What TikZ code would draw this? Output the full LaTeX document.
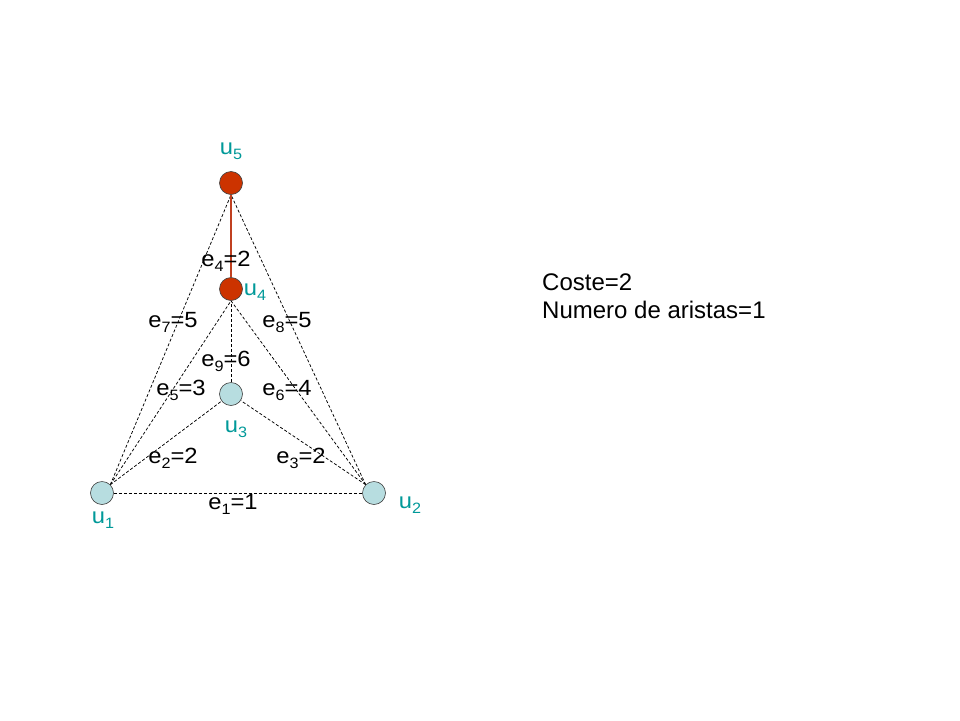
\documentclass[tikz,border=0pt]{standalone}
\usepackage{fontspec}
\setmainfont{Liberation Sans}
\newfontfamily\labfont[FakeStretch=1.08]{Liberation Sans}
\usetikzlibrary{backgrounds}
\newcommand\mysub[1]{\raisebox{-5pt}{\fontsize{15}{15}\selectfont #1}}
\begin{document}
\begin{tikzpicture}[x=1pt,y=-1pt,
  vert/.style={circle,draw=black!75,line width=0.6pt,minimum size=23pt,inner sep=0pt},
  redv/.style={vert,fill=nodered},
  bluev/.style={vert,fill=nodeblue},
  dedge/.style={draw=black,line width=0.75pt,dash pattern=on 3pt off 2pt},
  sedge/.style={draw=edgered,line width=1.1pt},
  elab/.style={anchor=base,inner sep=0pt,font=\labfont\fontsize{22}{26}\selectfont,text=black},
  ulab/.style={anchor=base,inner sep=0pt,font=\labfont\fontsize{22}{26}\selectfont,text=labteal},
  info/.style={anchor=base west,inner sep=0pt,font=\fontsize{24}{28}\selectfont,text=black}
]
\definecolor{nodered}{RGB}{204,51,0}
\definecolor{nodeblue}{RGB}{183,221,224}
\definecolor{edgered}{RGB}{192,64,32}
\definecolor{labteal}{RGB}{0,153,153}
\useasboundingbox (0,0) rectangle (960,720);

% vertices
\node[redv] (u5) at (231,183) {};
\node[redv] (u4) at (231,289) {};
\node[bluev] (u3) at (231,394) {};
\node[bluev] (u1) at (102,493) {};
\node[bluev] (u2) at (374,493) {};

% edges
\begin{scope}[on background layer]
\fill[white] (0,0) rectangle (960,720);
\draw[dedge] (u1.north east) -- (u5.south);
\draw[dedge] (u1.north east) -- (u4.south);
\draw[dedge] (u1.north east) -- (u3);
\draw[dedge] (u1.east) -- (u2.west);
\draw[dedge] (u2.north west) -- (u5.south);
\draw[dedge] (u2.north west) -- (u4.south);
\draw[dedge] (u2.north west) -- (u3);
\draw[dedge] (u3.north) -- (u4.south);
\draw[sedge] (u4.north) -- (u5.south);
\end{scope}

% vertex labels
\node[ulab] (lu5) at (231,154) {u\mysub{5}};
\node[ulab] (lu4) at (255,295) {u\mysub{4}};
\node[ulab] (lu3) at (236,432) {u\mysub{3}};
\node[ulab] (lu2) at (410,508) {u\mysub{2}};
\node[ulab] (lu1) at (103,523) {u\mysub{1}};

% edge labels
\node[elab] (le4) at (226,266) {e\mysub{4}=2};
\node[elab] (le7) at (173,327) {e\mysub{7}=5};
\node[elab] (le8) at (287,327) {e\mysub{8}=5};
\node[elab] (le9) at (226,366) {e\mysub{9}=6};
\node[elab] (le5) at (181,395) {e\mysub{5}=3};
\node[elab] (le6) at (287,395) {e\mysub{6}=4};
\node[elab] (le2) at (173,463) {e\mysub{2}=2};
\node[elab] (le3) at (301,463) {e\mysub{3}=2};
\node[elab] (le1) at (233,509) {e\mysub{1}=1};

% info
\node[info] (coste) at (542,290) {Coste=2};
\node[info] (num) at (542,318) {Numero de aristas=1};
\end{tikzpicture}
\end{document}
